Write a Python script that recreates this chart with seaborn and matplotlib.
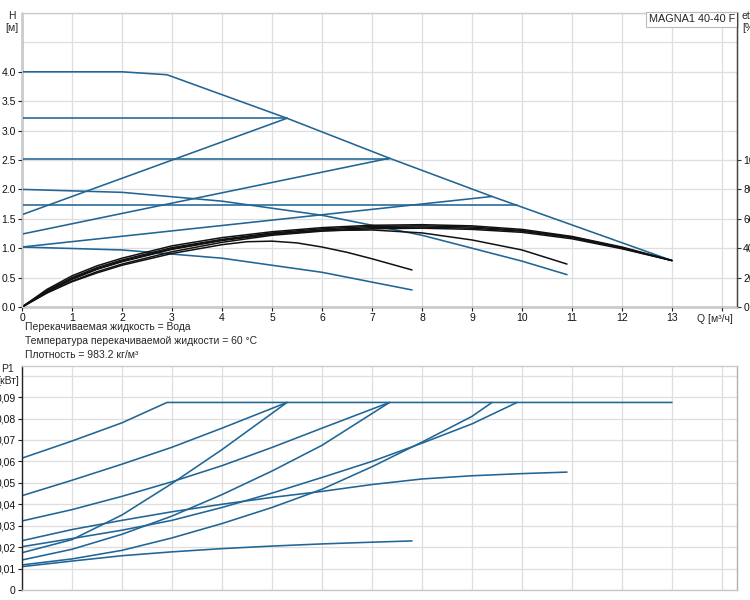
"""
Кривые насоса MAGNA1 40-40 F: напор H(Q), КПД и мощность P1(Q)
"""

import matplotlib
matplotlib.use("Agg")
import matplotlib.pyplot as plt
import seaborn as sns

sns.set_style("whitegrid")
plt.rcParams["font.family"] = ["Liberation Sans", "DejaVu Sans"]

BLUE = "#1f6596"
BLACK = "#111111"
GRID = "#dedede"

# ========== данные: напор H [м] ==========
# максимальная кривая
max_q = [0, 2.0, 2.9, 5.3, 7.35, 9.4, 13.0]
max_h = [4.0, 4.0, 3.95, 3.21, 2.53, 1.88, 0.79]

# постоянное давление
cp1_q, cp1_h = [0, 5.3], [3.22, 3.22]
cp2_q, cp2_h = [0, 7.35], [2.52, 2.52]
cp3_q, cp3_h = [0, 9.9], [1.73, 1.73]

# пропорциональное давление
pp1_q, pp1_h = [0, 5.3], [1.57, 3.21]
pp2_q, pp2_h = [0, 7.35], [1.24, 2.53]
pp3_q, pp3_h = [0, 9.4], [1.02, 1.88]

# постоянная кривая
cc1_q = [0, 2, 4, 6, 8, 10, 10.9]
cc1_h = [2.0, 1.95, 1.8, 1.56, 1.22, 0.78, 0.55]
cc2_q = [0, 2, 4, 6, 7.8]
cc2_h = [1.02, 0.97, 0.83, 0.59, 0.29]

# КПД [%] (чёрные кривые)
eta_q_long = [0, 0.5, 1, 1.5, 2, 3, 4, 5, 6, 7, 8, 9, 10, 11, 12, 13]
eta1 = [0, 12.0, 21.2, 28.0, 33.2, 41.6, 47.2, 51.2, 54.0, 55.6, 56.0, 55.2, 52.8, 48.0, 40.8, 31.6]
eta2 = [0, 11.2, 20.0, 26.8, 32.0, 40.4, 46.0, 50.4, 53.2, 54.8, 55.2, 54.4, 52.0, 47.6, 40.4, 31.6]
eta3 = [0, 10.4, 18.8, 25.6, 30.8, 39.2, 45.2, 49.6, 52.4, 54.0, 54.4, 53.6, 51.6, 47.2, 40.0, 31.6]
eta6 = [0, 9.6, 17.6, 24.0, 29.2, 37.6, 44.0, 48.8, 51.6, 53.2, 53.6, 52.8, 50.8, 46.4, 39.6, 31.6]
eta4_q = [0, 0.5, 1, 1.5, 2, 3, 4, 5, 6, 7, 8, 9, 10, 10.9]
eta4 = [0, 10.8, 19.2, 26.0, 31.2, 39.6, 45.6, 49.6, 52.0, 52.4, 50.4, 45.6, 38.8, 29.2]
eta5_q = [0, 0.5, 1, 1.5, 2, 3, 4, 4.5, 5, 5.5, 6, 6.5, 7, 7.8]
eta5 = [0, 9.6, 17.2, 23.2, 28.4, 36.4, 42.4, 44.4, 44.8, 43.6, 40.8, 37.2, 32.8, 25.2]

# ========== данные: мощность P1 [кВт] ==========
p_max_q = [0, 1, 2, 2.9, 13.0]
p_max = [0.0615, 0.0695, 0.078, 0.0875, 0.0875]
p_cp1_q = [0, 1, 2, 3, 4, 5.3]
p_cp1 = [0.044, 0.0512, 0.0587, 0.0666, 0.0755, 0.0875]
p_cp2_q = [0, 1, 2, 3, 4, 5, 6, 7.35]
p_cp2 = [0.0322, 0.0375, 0.0437, 0.0505, 0.058, 0.0665, 0.0755, 0.0875]
p_cp3_q = [0, 1, 2, 3, 4, 5, 6, 7, 8, 9, 9.9]
p_cp3 = [0.0202, 0.024, 0.0279, 0.0325, 0.0385, 0.0452, 0.0525, 0.060, 0.0685, 0.0775, 0.0875]
p_pp1_q = [0, 1, 2, 3, 4, 5.3]
p_pp1 = [0.0174, 0.0235, 0.035, 0.0497, 0.0655, 0.0875]
p_pp2_q = [0, 1, 2, 3, 4, 5, 6, 7.35]
p_pp2 = [0.014, 0.019, 0.026, 0.0345, 0.0445, 0.0555, 0.0675, 0.0875]
p_pp3_q = [0, 1, 2, 3, 4, 5, 6, 7, 8, 9, 9.4]
p_pp3 = [0.0117, 0.0145, 0.0185, 0.0243, 0.031, 0.0385, 0.047, 0.0575, 0.069, 0.081, 0.0875]
p_cc1_q = [0, 1, 2, 3, 4, 5, 6, 7, 8, 9, 10, 10.9]
p_cc1 = [0.023, 0.0282, 0.0325, 0.0365, 0.040, 0.0432, 0.046, 0.0492, 0.0518, 0.0533, 0.0543, 0.055]
p_cc2_q = [0, 1, 2, 3, 4, 5, 6, 7, 7.8]
p_cc2 = [0.0109, 0.0135, 0.016, 0.0178, 0.0193, 0.0205, 0.0215, 0.0223, 0.0229]

h_ticks = [0, 0.5, 1, 1.5, 2, 2.5, 3, 3.5, 4]
h_labels = ["0.0", "0.5", "1.0", "1.5", "2.0", "2.5", "3.0", "3.5", "4.0"]
h_grid_extra = [4.5, 5.0]
q_ticks = list(range(15))
q_labels = [str(i) for i in range(14)] + [""]
p_ticks = [0, 0.01, 0.02, 0.03, 0.04, 0.05, 0.06, 0.07, 0.08, 0.09]
p_labels = ["0", "0,01", "0,02", "0,03", "0,04", "0,05", "0,06", "0,07", "0,08", "0,09"]
p_grid_extra = [0.10]
eta_ticks = [0, 20, 40, 60, 80, 100]

FS = 7.5


def draw(ax, q, v, color=BLUE, lw=1.15):
    sns.lineplot(x=q, y=v, ax=ax, color=color, lw=lw, sort=False,
                 estimator=None, legend=False)


def px(x, y):
    return x / 750, 1 - y / 600


fig = plt.figure(figsize=(7.5, 6), dpi=100)
ax1 = fig.add_axes([22 / 750, 1 - 307 / 600, 715 / 750, 294 / 600])
ax2 = fig.add_axes([22 / 750, 10 / 600, 715 / 750, 224 / 600])

# ========== верхний график ==========
# КПД на своей оси справа
ax1b = ax1.twinx()
for q, e in [(eta_q_long, eta1), (eta_q_long, eta2), (eta_q_long, eta3),
             (eta_q_long, eta6), (eta4_q, eta4), (eta5_q, eta5)]:
    draw(ax1b, q, e, color=BLACK, lw=1.1)

for q, h in [(cp1_q, cp1_h), (cp2_q, cp2_h), (cp3_q, cp3_h),
             (pp1_q, pp1_h), (pp2_q, pp2_h), (pp3_q, pp3_h),
             (cc1_q, cc1_h), (cc2_q, cc2_h), (max_q, max_h)]:
    draw(ax1, q, h)

ax1.set_xlim(0, 14.3)
ax1.set_ylim(0, 5.0)
ax1.set_xticks(q_ticks)
ax1.set_xticklabels(q_labels, fontsize=FS)
ax1.set_yticks(h_ticks)
ax1.set_yticklabels(h_labels, fontsize=FS)
ax1.set_yticks(h_grid_extra, minor=True)
ax1.set_xlabel("")
ax1.set_ylabel("")

ax1b.set_ylim(0, 200)
ax1b.set_yticks(eta_ticks)
ax1b.set_yticklabels([str(t) for t in eta_ticks], fontsize=FS)
ax1b.set_ylabel("")
ax1b.grid(False)

# ========== нижний график ==========
for q, p in [(p_cc2_q, p_cc2), (p_cc1_q, p_cc1), (p_pp3_q, p_pp3), (p_cp3_q, p_cp3),
             (p_pp2_q, p_pp2), (p_cp2_q, p_cp2), (p_pp1_q, p_pp1), (p_cp1_q, p_cp1),
             (p_max_q, p_max)]:
    draw(ax2, q, p)

ax2.set_xlim(0, 14.3)
ax2.set_ylim(0, 0.1045)
ax2.set_xticks(q_ticks)
ax2.set_xticklabels([])
ax2.set_yticks(p_ticks)
ax2.set_yticklabels(p_labels, fontsize=FS)
ax2.set_yticks(p_grid_extra, minor=True)
ax2.set_xlabel("")
ax2.set_ylabel("")

# ========== оформление ==========
for ax in (ax1, ax2):
    ax.grid(True, which="both", color=GRID, lw=0.9)
    ax.tick_params(axis="both", length=3, width=0.8, pad=1.5, colors="#222222",
                   labelcolor="#111111")
    ax.tick_params(which="minor", length=0)
    for s in ax.spines.values():
        s.set_linewidth(1.0)

ax1.spines["left"].set_color("#222222")
ax1.spines["bottom"].set_color("#222222")
ax1.spines["top"].set_color("#cccccc")
ax1.spines["right"].set_color("#444444")
ax1.tick_params(axis="y", left=True)
ax1.tick_params(axis="x", bottom=True)
ax1b.spines["right"].set_color("#444444")
ax1b.spines["top"].set_visible(False)
ax1b.tick_params(axis="y", right=True, length=3, pad=1.5, colors="#333333",
                 labelcolor="#111111")

ax2.spines["left"].set_color("#222222")
ax2.spines["bottom"].set_color("#c8c8c8")
ax2.spines["top"].set_color("#cccccc")
ax2.spines["right"].set_color("#b0b0b0")
ax2.tick_params(axis="y", left=True)
ax2.tick_params(axis="x", bottom=False)

ax1.text(0.997, 0.995, "MAGNA1 40-40 F", transform=ax1.transAxes, ha="right",
         va="top", fontsize=FS + 0.3, color="#222222", zorder=10,
         bbox=dict(boxstyle="square,pad=0.25", fc="white", ec="#bbbbbb", lw=0.8))
ax1.text(13.85, -0.12, "Q [м³/ч]", ha="center", va="top", fontsize=FS)

fig.text(*px(12, 22), "H\n[м]", ha="center", va="center", fontsize=FS,
         linespacing=1.25)
fig.text(*px(742, 22), "eta\n[%]", ha="left", va="center", fontsize=FS,
         linespacing=1.25)
fig.text(*px(8, 375), "P1\n[кВт]", ha="center", va="center", fontsize=FS,
         linespacing=1.2)

notes = ["Перекачиваемая жидкость = Вода",
         "Температура перекачиваемой жидкости = 60 °C",
         "Плотность = 983.2 кг/м³"]
for i, t in enumerate(notes):
    fig.text(*px(25, 327 + 14 * i), t, ha="left", va="center", fontsize=FS)

fig.savefig("out.png", dpi=100)
